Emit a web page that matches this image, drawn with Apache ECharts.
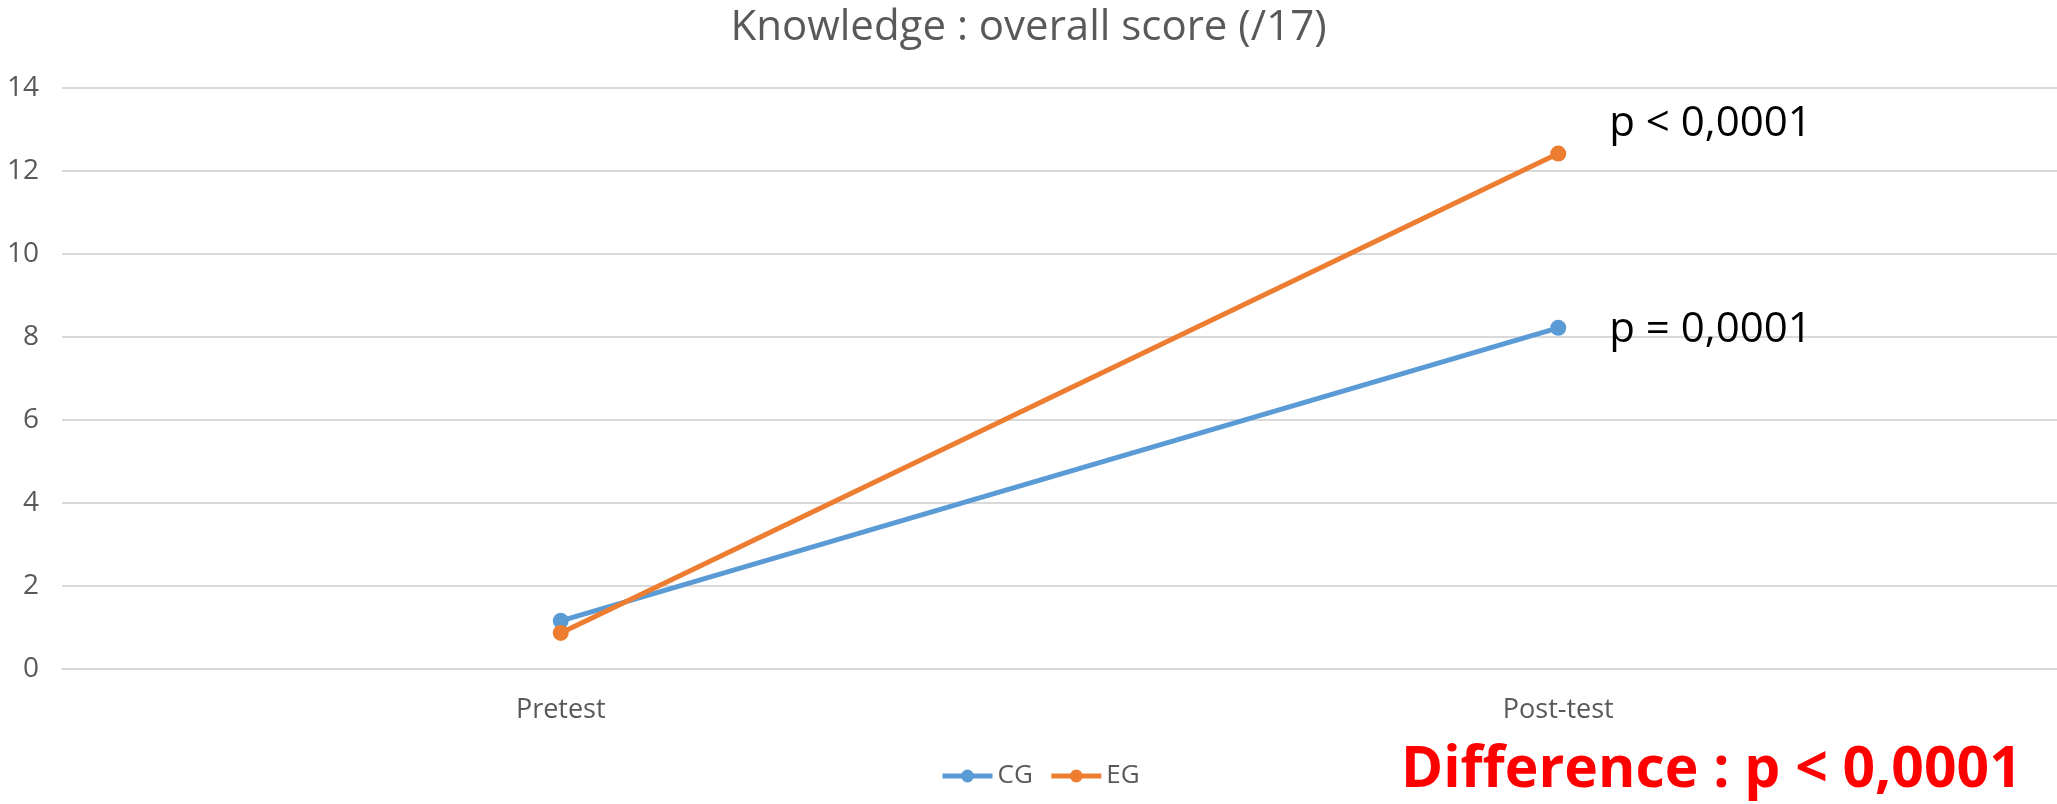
<!DOCTYPE html>
<html>
<head>
<meta charset="utf-8">
<script src="https://cdn.jsdelivr.net/npm/echarts@6/dist/echarts.min.js"></script>
<style>
    html, body { margin: 0; padding: 0; background: #fff; }
    #chart { width: 2057px; height: 804px; }
</style>
</head>
<body>
<div id="chart"></div>
<script>
// chart data
var categories = ["Pretest", "Post-test"];
var cgValues = [1.16, 8.22];
var egValues = [0.87, 12.42];
var pLabels = { CG: "p = 0,0001", EG: "p < 0,0001" };
var titleText = "Knowledge : overall score (/17)";
var diffText = "Difference : p < 0,0001";

var font = "'Open Sans', sans-serif";

function withEndLabel(values, text, offset) {
    return values.map(function (v, i) {
        if (i !== values.length - 1) return v;
        return {
            value: v,
            label: {
                show: true,
                position: "right",
                offset: offset,
                formatter: text,
                color: "#000",
                fontFamily: font,
                fontSize: 42
            }
        };
    });
}

var chart = echarts.init(document.getElementById("chart"));
chart.setOption({
    animation: false,
    title: {
        text: titleText,
        left: "center",
        top: 2,
        textStyle: { color: "#595959", fontFamily: font, fontWeight: "normal", fontSize: 42 }
    },
    legend: {
        bottom: 10,
        left: 935,
        itemWidth: 50,
        itemHeight: 16,
        itemGap: 16,
        lineStyle: { width: 5 },
        textStyle: { color: "#595959", fontFamily: font, fontSize: 26 },
        data: ["CG", "EG"]
    },
    grid: { left: 62, right: 0, top: 88, bottom: 135 },
    xAxis: {
        type: "category",
        data: categories,
        axisLine: { show: true, lineStyle: { color: "#d9d9d9", width: 2 } },
        axisTick: { show: false },
        axisLabel: { color: "#595959", fontFamily: font, fontSize: 27, margin: 28 }
    },
    yAxis: {
        type: "value",
        min: 0,
        max: 14,
        interval: 2,
        axisLine: { show: false },
        axisTick: { show: false },
        axisLabel: { color: "#595959", fontFamily: font, fontSize: 28, margin: 23 },
        splitLine: { lineStyle: { color: "#d9d9d9", width: 2 } }
    },
    series: [
        {
            name: "CG",
            type: "line",
            data: withEndLabel(cgValues, pLabels.CG, [38, 2]),
            symbol: "circle",
            symbolSize: 16,
            lineStyle: { color: "#5b9bd5", width: 5 },
            itemStyle: { color: "#5b9bd5" }
        },
        {
            name: "EG",
            type: "line",
            data: withEndLabel(egValues, pLabels.EG, [38, -30]),
            symbol: "circle",
            symbolSize: 16,
            lineStyle: { color: "#ed7d31", width: 5 },
            itemStyle: { color: "#ed7d31" }
        }
    ],
    graphic: [
        {
            type: "text",
            left: 1401,
            top: 742,
            style: {
                text: diffText,
                fill: "#ff0000",
                font: "bold 57px " + font
            }
        }
    ]
});
</script>
</body>
</html>
